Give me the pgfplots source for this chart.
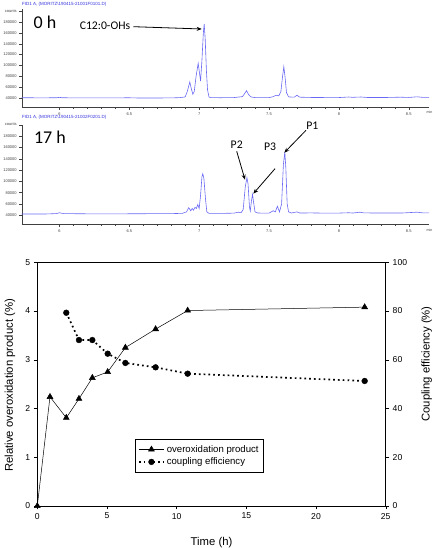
\documentclass[border=0pt]{standalone}
\usepackage{fontspec}
\setmainfont{Liberation Sans}
\newfontfamily\carlito{Carlito}
\usepackage{pgfplots}
\pgfplotsset{compat=1.18}
\usetikzlibrary{arrows.meta}
\definecolor{chrom}{RGB}{105,105,245}
\definecolor{fidblue}{RGB}{50,50,220}

\pgfplotsset{
  chromstyle/.style={
    scale only axis, width=407.3pt,
    axis x line=bottom, axis y line=left,
    axis line style={-, black!75, line width=0.4pt},
    xmin=5.73, xmax=8.645,
    xtick={6,6.5,7,7.5,8,8.5}, xticklabels={6,6.5,7,7.5,8,8.5},
    minor x tick num=4,
    ytick={40000,60000,80000,100000,120000,140000,160000,180000,200000},
    yticklabels={40000,60000,80000,100000,120000,140000,160000,180000,counts},
    scaled y ticks=false, scaled x ticks=false,
    tick align=outside,
    major tick length=2.5pt, minor tick length=1.3pt,
    every tick/.style={black!75, line width=0.3pt},
    tick label style={font=\fontsize{4}{4.5}\selectfont, text=black!75},
    xticklabel style={yshift=1pt},
    yticklabel style={xshift=1pt},
    clip=false,
  }
}

\begin{document}
\begin{tikzpicture}
\useasboundingbox (0pt,0pt) rectangle (433pt,548pt);

% ---------------- Chromatogram 0 h ----------------
\begin{axis}[chromstyle, at={(21.7pt,440.7pt)}, anchor=south west, height=98.3pt,
  ymin=22870, ymax=204000]
\addplot[chrom, line width=0.6pt] coordinates {
(5.73,40500) (5.85,40300) (5.98,40400) (6.0,41200) (6.02,40400) (6.2,40200)
(6.4,40100) (6.5,40500) (6.52,40100) (6.7,40000) (6.8,40200) (6.86,40600)
(6.9,42000) (6.915,52000) (6.933,69500) (6.945,56000) (6.955,47000) (6.965,52000)
(6.978,80000) (6.993,103900) (7.003,85000) (7.01,71300) (7.02,110000) (7.03,160000)
(7.036,176300) (7.043,150000) (7.052,90000) (7.06,55000) (7.07,42000) (7.08,40800)
(7.15,40500) (7.25,40800) (7.31,42500) (7.325,48000) (7.339,53500) (7.352,47000)
(7.37,42000) (7.40,40800) (7.5,40600) (7.53,42500) (7.55,45000) (7.57,44000)
(7.585,52000) (7.597,80000) (7.606,97700) (7.615,78000) (7.625,50000) (7.64,42000)
(7.68,41500) (7.70,45000) (7.72,41500) (7.8,41000) (7.9,40800) (8.0,40800)
(8.07,41800) (8.1,41200) (8.13,41600) (8.16,41800) (8.2,41000) (8.35,41000)
(8.44,41500) (8.5,41000) (8.56,42200) (8.6,41200) (8.645,41200)
};
\end{axis}

% ---------------- Chromatogram 17 h ----------------
\begin{axis}[chromstyle, at={(21.7pt,323.7pt)}, anchor=south west, height=99.6pt,
  ymin=24100, ymax=200000]
\addplot[chrom, line width=0.6pt] coordinates {
(5.73,42300) (5.9,42300) (5.98,43000) (6.0,44500) (6.03,43000) (6.2,42600)
(6.4,42500) (6.6,42800) (6.8,42900) (6.88,43500) (6.91,46000) (6.925,53400)
(6.94,48000) (6.95,52000) (6.96,49000) (6.97,54000) (6.98,52000) (6.99,59000)
(7.0,52000) (7.01,75000) (7.02,108000) (7.026,113400) (7.034,105000) (7.045,70000)
(7.055,46000) (7.07,43500) (7.15,43300) (7.25,43800) (7.28,45500) (7.3,44500)
(7.315,50000) (7.33,90000) (7.342,106400) (7.35,95000) (7.36,55000) (7.366,47600)
(7.374,65000) (7.382,77000) (7.39,62000) (7.40,46000) (7.42,44000) (7.5,43800)
(7.53,48000) (7.545,46000) (7.56,56000) (7.575,46000) (7.59,60000) (7.603,130000)
(7.613,151700) (7.62,125000) (7.63,60000) (7.64,46000) (7.66,44000) (7.70,46000)
(7.72,44000) (7.8,44200) (7.9,43800) (8.0,43900) (8.07,44500) (8.1,44000)
(8.15,45500) (8.18,44200) (8.3,44000) (8.45,44000) (8.56,45500) (8.6,44300)
(8.645,44300)
};
\end{axis}

% chromatogram titles and annotations
\node[anchor=west, inner sep=0pt, text=fidblue, font=\fontsize{4.5}{5}\selectfont] at (22pt,544pt) {FID1 A, (MORITZ\textbackslash 190415-21001F0101.D)};
\node[anchor=west, inner sep=0pt, text=fidblue, font=\fontsize{4.5}{5}\selectfont] at (22pt,430.3pt) {FID1 A, (MORITZ\textbackslash 190415-21002F0201.D)};
\node[anchor=east, inner sep=0pt, text=black!75, font=\fontsize{3.6}{4}\selectfont] at (432.5pt,436pt) {min};
\node[anchor=east, inner sep=0pt, text=black!75, font=\fontsize{3.6}{4}\selectfont] at (432.5pt,317.3pt) {min};

\node[font=\carlito\fontsize{18}{20}\selectfont, inner sep=0pt] at (45pt,526pt) {0 h};
\node[font=\carlito\fontsize{11.7}{13}\selectfont, inner sep=0pt] at (105pt,522pt) {C12:0-OHs};
\draw[line width=0.8pt, -{Stealth[length=5pt,width=4pt]}] (133.3pt,521.3pt) -- (201.7pt,519pt);

\node[font=\carlito\fontsize{18}{20}\selectfont, inner sep=0pt] at (50pt,411pt) {17 h};
\node[font=\carlito\fontsize{11.7}{13}\selectfont, inner sep=0pt] at (236.7pt,403.7pt) {P2};
\draw[line width=0.8pt, -{Stealth[length=5pt,width=4pt]}] (236.7pt,396.7pt) -- (245pt,368.3pt);
\node[font=\carlito\fontsize{11.7}{13}\selectfont, inner sep=0pt] at (270pt,401.7pt) {P3};
\draw[line width=0.8pt, -{Stealth[length=5pt,width=4pt]}] (275pt,379.3pt) -- (253.3pt,354.3pt);
\node[font=\carlito\fontsize{11.7}{13}\selectfont, inner sep=0pt] at (312.3pt,422.7pt) {P1};
\draw[line width=0.8pt, -{Stealth[length=5pt,width=4pt]}] (306pt,417.7pt) -- (284.3pt,395.3pt);

% ---------------- Bottom plot ----------------
\begin{axis}[at={(37.3pt,42pt)}, anchor=south west, scale only axis,
  width=348.4pt, height=243.7pt,
  xmin=0, xmax=25, ymin=0, ymax=5,
  xtick={0,5,...,25}, ytick={0,1,...,5},
  xtick pos=left, ytick pos=left, tick align=outside,
  major tick length=3.5pt,
  every tick/.style={black, line width=0.4pt},
  axis line style={line width=0.5pt},
  /pgf/number format/assume math mode=true,
  tick label style={font=\fontsize{8.6}{10}\selectfont},
  label style={font=\fontsize{11.3}{13}\selectfont},
  xlabel={Time (h)},
  ylabel={Relative overoxidation product (\%)},
  xlabel style={at={(axis description cs:0.5,-0.1506)}, anchor=center},
  ylabel style={at={(axis description cs:-0.0784,0.495)}, anchor=center},
  clip=false,
]
\addplot[black, line width=0.5pt, mark=triangle*, mark size=3.4pt] coordinates {
(0,0) (0.91,2.24) (2.08,1.81) (2.99,2.20) (3.95,2.63) (5.05,2.75)
(6.32,3.25) (8.49,3.63) (10.79,4.01) (23.49,4.08)
};
\end{axis}

\begin{axis}[at={(37.3pt,42pt)}, anchor=south west, scale only axis,
  width=348.4pt, height=243.7pt,
  xmin=0, xmax=25, ymin=0, ymax=100,
  axis x line=none, axis y line*=right,
  ytick={0,20,...,100}, tick align=outside,
  major tick length=3.5pt,
  every tick/.style={black, line width=0.4pt},
  axis line style={-, line width=0.5pt},
  /pgf/number format/assume math mode=true,
  tick label style={font=\fontsize{8.6}{10}\selectfont},
  label style={font=\fontsize{11.3}{13}\selectfont},
  ylabel={Coupling efficiency (\%)},
  ylabel style={at={(axis description cs:1.1177,0.583)}, anchor=center},
  legend style={at={(0.280,0.275)}, anchor=north west, draw=black,
    line width=0.5pt, font=\fontsize{9.6}{11}\selectfont,
    inner xsep=3pt, inner ysep=4pt, row sep=0pt},
  legend cell align=left,
  legend image code/.code={
    \draw[mark repeat=2, mark phase=2, #1] plot coordinates {(0pt,0pt) (12.5pt,0pt) (25pt,0pt)};
  },
  clip=false,
]
\addlegendimage{black, line width=0.5pt, mark=triangle*, mark size=3.4pt}
\addlegendentry{overoxidation product}
\addplot[black, line width=1.7pt, dash pattern=on 1.7pt off 3.1pt,
  mark=*, mark size=2.9pt, mark options={solid, line width=0.4pt}] coordinates {
(2.08,79.3) (2.99,68.1) (3.95,68.1) (5.05,62.5) (6.32,58.7) (8.49,56.9)
(10.79,54.3) (23.49,51.3)
};
\addlegendentry{coupling efficiency}
\end{axis}

\end{tikzpicture}
\end{document}
